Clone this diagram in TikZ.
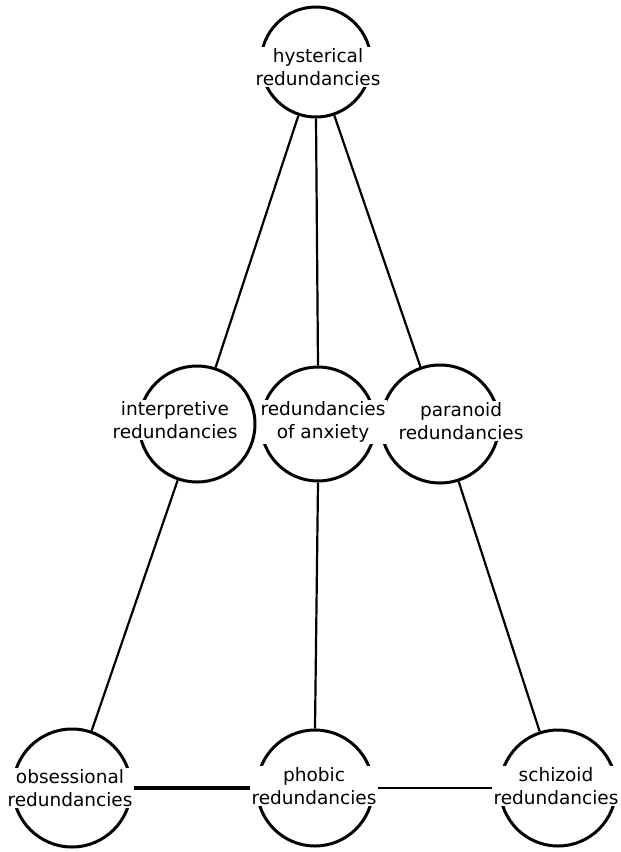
\documentclass[tikz,border=0pt]{standalone}
\usepackage{fontspec}
\setmainfont{DejaVu Sans}
\begin{document}
\begin{tikzpicture}[x=1pt,y=-1pt,
  ring/.style={circle, draw, line width=3pt, inner sep=0pt, minimum size=#1},
  link/.style={line width=2.2pt},
  thicklink/.style={line width=3.2pt},
  tag/.style={fill=white, align=center, inner sep=2pt,
    font=\fontsize{18.5}{22.5}\selectfont}]
\useasboundingbox (0,0) rectangle (621,852);

% circles
\node[ring=110pt] (hys) at (316,62) {};
\node[ring=116pt] (int) at (197,424) {};
\node[ring=114pt] (anx) at (318,424) {};
\node[ring=118pt] (par) at (440,424) {};
\node[ring=118pt] (obs) at (72,788) {};
\node[ring=116pt] (pho) at (315,788) {};
\node[ring=116pt] (sch) at (558,788) {};

% connections
\draw[link] (hys) -- (int);
\draw[link] (hys.south) -- (anx.north);
\draw[link] (hys) -- (par);
\draw[link] (int) -- (obs);
\draw[link] (anx.south) -- (pho.north);
\draw[link] (par) -- (sch);
\draw[thicklink] (obs) -- (pho);
\draw[link] (pho) -- (sch);

% labels
\node[tag] (hysT) at (318,67) {hysterical\\redundancies};
\node[tag] (intT) at (175,420) {interpretive\\redundancies};
\node[tag] (anxT) at (323,422) {redundancies\\of anxiety};
\node[tag] (parT) at (461,421) {paranoid\\redundancies};
\node[tag] (obsT) at (70,788) {obsessional\\redundancies};
\node[tag] (phoT) at (314,786) {phobic\\redundancies};
\node[tag] (schT) at (556,786) {schizoid\\redundancies};
\end{tikzpicture}
\end{document}
